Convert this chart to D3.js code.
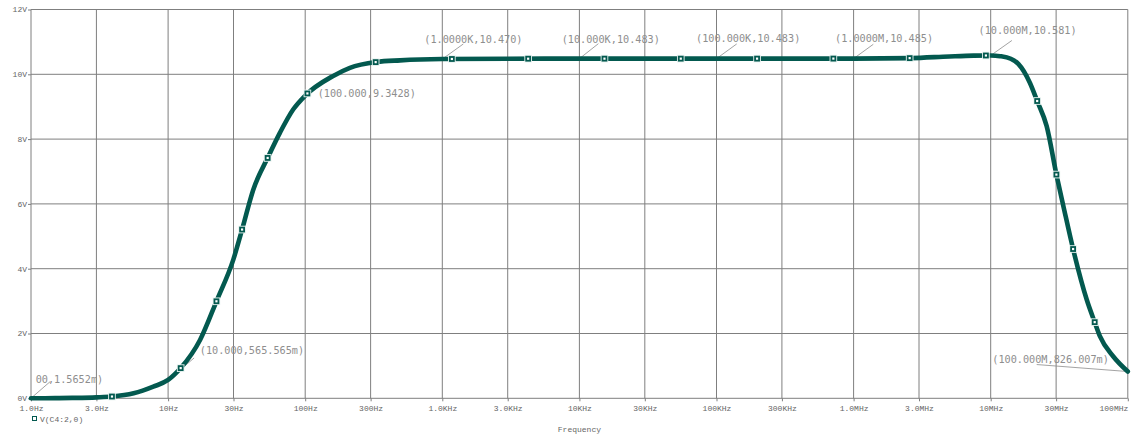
<!DOCTYPE html>
<html>
<head>
<meta charset="utf-8">
<script src="https://cdn.jsdelivr.net/npm/d3@7"></script>
<style>
  html, body { margin: 0; padding: 0; background: #fff; }
  svg { display: block; }
</style>
</head>
<body>
<svg id="chart" width="1136" height="434"></svg>
<script>
// AC sweep of V(C4:2,0): frequency (Hz) and output voltage (V)
const sweepFreq = [
  1, 1.5, 2, 3, 3.9, 5.6, 7.8, 10, 12.4, 17.1, 22.6, 29.9, 34.6, 41.8, 53.8, 65.5, 81.9,
  100, 160, 212, 332, 492, 1e3, 3e3, 1e4, 1e5, 1e6, 2.6e6, 5e6, 7.5e6, 1e7,
  1.17e7, 1.4e7, 1.59e7, 1.93e7, 2.19e7, 2.56e7, 3.03e7, 3.39e7, 4.01e7, 5.02e7, 5.77e7, 6.27e7, 7.84e7, 1e8
];
const sweepVolts = [
  0.0015652, 0.005, 0.012, 0.03, 0.055, 0.155, 0.36, 0.565565, 0.94, 1.80, 3.01, 4.28, 5.20, 6.44, 7.46, 8.20, 8.92,
  9.3428, 9.95, 10.20, 10.38, 10.43, 10.470, 10.480, 10.483, 10.483, 10.485, 10.50, 10.55, 10.575, 10.581,
  10.56, 10.48, 10.32, 9.74, 9.16, 8.40, 6.86, 5.93, 4.57, 3.04, 2.32, 1.91, 1.29, 0.826007
];

// Axis ticks
const xTickValues = [1, 3, 10, 30, 100, 300, 1e3, 3e3, 1e4, 3e4, 1e5, 3e5, 1e6, 3e6, 1e7, 3e7, 1e8];
const xTickLabels = ["1.0Hz", "3.0Hz", "10Hz", "30Hz", "100Hz", "300Hz", "1.0KHz", "3.0KHz", "10KHz",
                     "30KHz", "100KHz", "300KHz", "1.0MHz", "3.0MHz", "10MHz", "30MHz", "100MHz"];
const yTickValues = [0, 2, 4, 6, 8, 10, 12];
const yTickLabels = ["0V", "2V", "4V", "6V", "8V", "10V", "12V"];

// Cursor labels (frequency, value, text)
const probeFreq   = [1, 10, 100, 1e3, 1e4, 1e5, 1e6, 1e7, 1e8];
const probeValues = [0.0015652, 0.565565, 9.3428, 10.470, 10.483, 10.483, 10.485, 10.581, 0.826007];
const probeTexts  = ["00,1.5652m)", "(10.000,565.565m)", "(100.000,9.3428)", "(1.0000K,10.470)",
                     "(10.000K,10.483)", "(100.000K,10.483)", "(1.0000M,10.485)", "(10.000M,10.581)",
                     "(100.000M,826.007m)"];

const traceName = "V(C4:2,0)";
const xTitle = "Frequency";

(function draw() {
  // ---- layout ----
  const plotLeft = 31, plotRight = 1127.8, plotTop = 9.5, plotBottom = 398.3;
  const traceColor = "#03594f";
  const gridColor = "#7f7f7f";
  const tickFont = "'Liberation Mono', monospace";

  const svg = d3.select("#chart");

  const x = d3.scaleLog().domain([1, 1e8]).range([plotLeft, plotRight]);
  const y = d3.scaleLinear().domain([0, 12]).range([plotBottom, plotTop]);

  // grid
  const grid = svg.append("g");
  grid.selectAll("line.vx").data(xTickValues).join("line").attr("class", "vx")
    .attr("x1", d => x(d)).attr("x2", d => x(d))
    .attr("y1", y(0)).attr("y2", y(12))
    .attr("stroke", gridColor).attr("stroke-width", 1);
  grid.selectAll("line.hy").data(yTickValues).join("line").attr("class", "hy")
    .attr("x1", plotLeft).attr("x2", plotRight)
    .attr("y1", d => y(d)).attr("y2", d => y(d))
    .attr("stroke", gridColor).attr("stroke-width", 1);

  // axes
  const xAxis = d3.axisBottom(x).tickValues(xTickValues)
    .tickFormat((d, i) => xTickLabels[i]).tickSize(3).tickPadding(4);
  const gx = svg.append("g").attr("transform", `translate(0,${plotBottom})`).call(xAxis);
  gx.select(".domain").remove();
  gx.selectAll(".tick line").attr("stroke", gridColor);
  gx.selectAll(".tick text")
    .attr("font-family", tickFont).attr("font-size", 8)
    .attr("fill", "#666").attr("dy", "0.75em")
    .attr("text-anchor", (d, i, n) => i === n.length - 1 ? "end" : "middle");

  const yAxis = d3.axisLeft(y).tickValues(yTickValues)
    .tickFormat((d, i) => yTickLabels[i]).tickSize(3).tickPadding(1);
  const gy = svg.append("g").attr("transform", `translate(${plotLeft},0)`).call(yAxis);
  gy.select(".domain").remove();
  gy.selectAll(".tick line").attr("stroke", gridColor);
  gy.selectAll(".tick text")
    .attr("font-family", tickFont).attr("font-size", 8)
    .attr("fill", "#666").attr("dy", "0.3em");

  // cursor label placement relative to the labelled point
  const labelLayout = [
    { tx: 4.7,    ty: -15,   lx: 19,    ly: -16.5 },
    { tx: 31.7,   ty: -25.7, lx: 26,    ly: -22 },
    { tx: 12.5,   ty: 1,     lx: 0,     ly: 0 },
    { tx: -18,    ty: -15.8, lx: 21,    ly: -15.1 },
    { tx: -17.7,  ty: -15.8, lx: 19,    ly: -15 },
    { tx: -20.5,  ty: -16.6, lx: 20.2,  ly: -14.7 },
    { tx: -18.6,  ty: -16.6, lx: 19.7,  ly: -14.3 },
    { tx: -12.2,  ty: -21,   lx: 21.2,  ly: -15 },
    { tx: -135.5, ty: -8.3,  lx: -91.1, ly: -7 }
  ];
  const probes = probeFreq.map((f, i) => ({ f, v: probeValues[i], text: probeTexts[i], ...labelLayout[i] }));

  // leader lines sit beneath the trace
  svg.append("g").selectAll("line").data(probes).join("line")
    .attr("x1", d => x(d.f)).attr("y1", d => y(d.v))
    .attr("x2", d => x(d.f) + d.lx).attr("y2", d => y(d.v) + d.ly)
    .attr("stroke", "#8c8c8c").attr("stroke-width", 0.8);

  // trace
  const data = sweepFreq.map((f, i) => ({ f, v: sweepVolts[i] }));
  const line = d3.line().x(d => x(d.f)).y(d => y(d.v)).curve(d3.curveMonotoneX);
  const path = svg.append("path").datum(data)
    .attr("d", line)
    .attr("fill", "none")
    .attr("stroke", traceColor)
    .attr("stroke-width", 4.6)
    .attr("stroke-linejoin", "round")
    .attr("stroke-linecap", "round");

  // trace markers, evenly spaced along the drawn trace
  const total = path.node().getTotalLength();
  const markerPts = [];
  for (let s = 81; s < total - 12; s += 76.3) markerPts.push(path.node().getPointAtLength(s));
  const mk = svg.append("g").selectAll("g").data(markerPts).join("g")
    .attr("transform", p => `translate(${p.x},${p.y})`);
  mk.append("rect").attr("x", -3.8).attr("y", -3.8).attr("width", 7.6).attr("height", 7.6).attr("fill", "#e8f2f0");
  mk.append("rect").attr("x", -2.9).attr("y", -2.9).attr("width", 5.8).attr("height", 5.8).attr("fill", traceColor);
  mk.append("rect").attr("x", -1.1).attr("y", -1.1).attr("width", 2.2).attr("height", 2.2).attr("fill", "#fff");

  // cursor label texts
  svg.append("g").selectAll("text").data(probes).join("text")
    .attr("x", d => x(d.f) + d.tx).attr("y", d => y(d.v) + d.ty)
    .attr("font-family", "'DejaVu Sans Mono', monospace").attr("font-size", 10.2)
    .attr("fill", "#8e8e8e")
    .text(d => d.text);

  // legend
  const lg = svg.append("g");
  lg.append("rect").attr("x", 32.5).attr("y", 416.5).attr("width", 4).attr("height", 4)
    .attr("fill", "#fff").attr("stroke", traceColor).attr("stroke-width", 1);
  lg.append("text").attr("x", 40).attr("y", 421.5)
    .attr("font-family", tickFont).attr("font-size", 8).attr("fill", "#666")
    .text(traceName);

  // x title
  svg.append("text").attr("x", (plotLeft + plotRight) / 2).attr("y", 431.5).attr("text-anchor", "middle")
    .attr("font-family", tickFont).attr("font-size", 8).attr("fill", "#666")
    .text(xTitle);
})();
</script>
</body>
</html>
